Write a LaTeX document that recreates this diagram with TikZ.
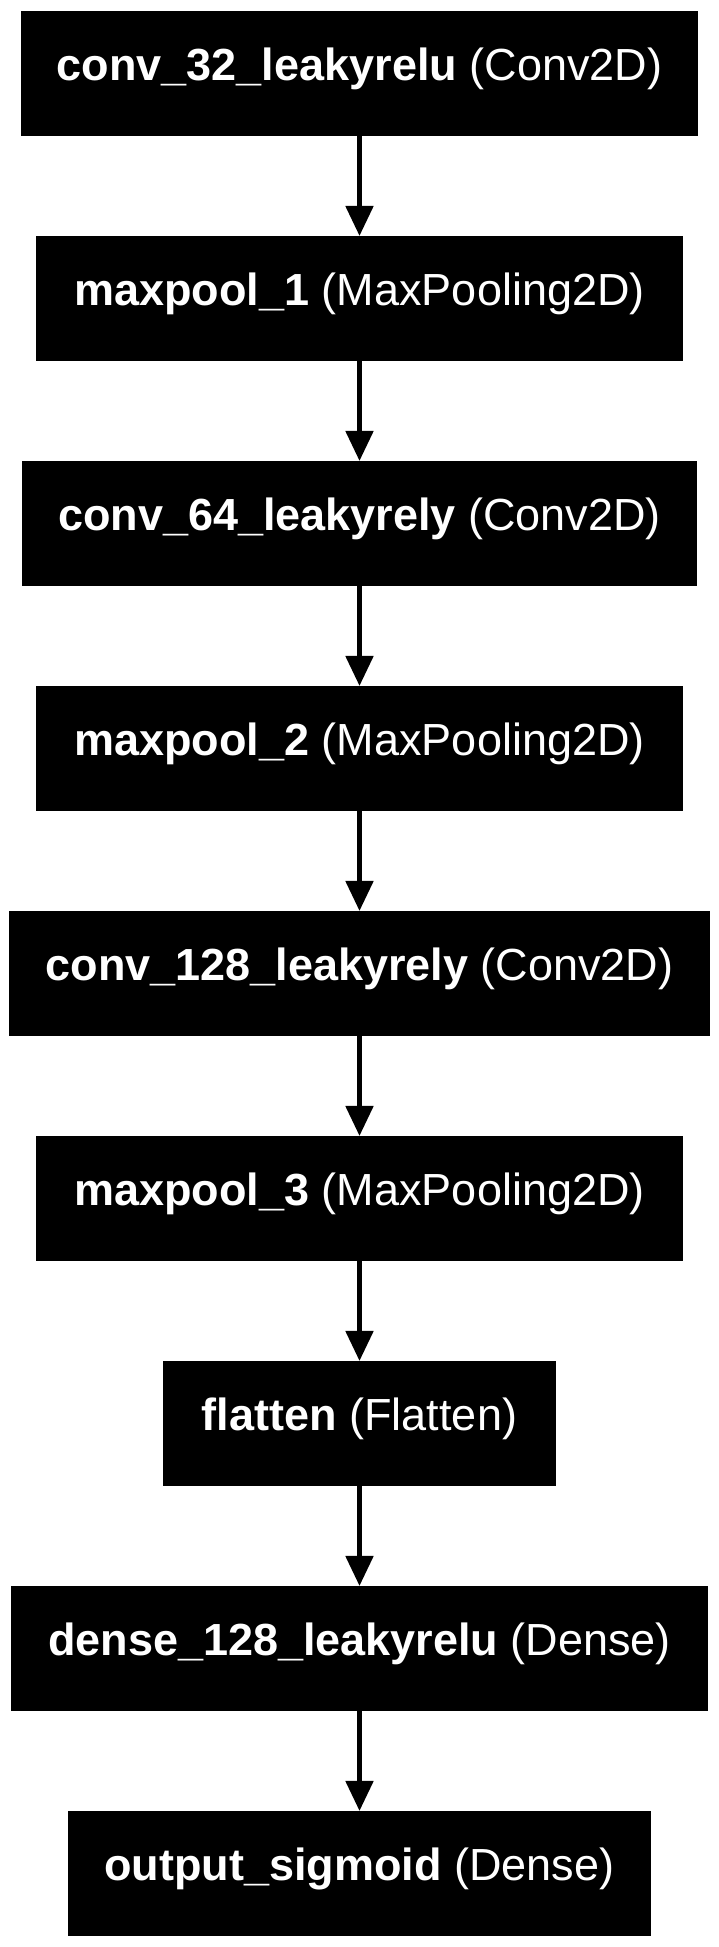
\documentclass[tikz,border=0pt]{standalone}
\usepackage{fontspec}
\setmainfont{Liberation Sans}
\usetikzlibrary{arrows.meta}
\begin{document}
\begin{tikzpicture}[x=1pt,y=1pt,
  layer/.style={rectangle, fill=black, draw=none, inner sep=0pt, outer sep=0pt,
    minimum height=124.7pt, text=white, font=\fontsize{45}{54}\selectfont,
    text height=33pt, text depth=18pt, align=center},
  conn/.style={line width=5pt, -{Triangle[width=27pt,length=30pt]}}]
\useasboundingbox (0,0) rectangle (719,1947);
\node[layer, minimum width=677.6pt] (l1) at (359.5,1873.65) {\textbf{conv\_32\_leakyrelu} (Conv2D)};
\node[layer, minimum width=647.6pt] (l2) at (359.5,1648.65) {\textbf{maxpool\_1} (MaxPooling2D)};
\node[layer, minimum width=675.6pt] (l3) at (359.5,1423.65) {\textbf{conv\_64\_leakyrely} (Conv2D)};
\node[layer, minimum width=647.6pt] (l4) at (359.5,1198.65) {\textbf{maxpool\_2} (MaxPooling2D)};
\node[layer, minimum width=700.4pt] (l5) at (359.5,973.65) {\textbf{conv\_128\_leakyrely} (Conv2D)};
\node[layer, minimum width=647.6pt] (l6) at (359.5,748.65) {\textbf{maxpool\_3} (MaxPooling2D)};
\node[layer, minimum width=392.4pt] (l7) at (359.5,523.65) {\textbf{flatten} (Flatten)};
\node[layer, minimum width=697.6pt] (l8) at (359.5,298.65) {\textbf{dense\_128\_leakyrelu} (Dense)};
\node[layer, minimum width=583pt] (l9) at (359.5,73.65) {\textbf{output\_sigmoid} (Dense)};
\foreach \a/\b in {l1/l2,l2/l3,l3/l4,l4/l5,l5/l6,l6/l7,l7/l8,l8/l9}
  \draw[conn] (\a.south) -- (\b.north);
\end{tikzpicture}
\end{document}
